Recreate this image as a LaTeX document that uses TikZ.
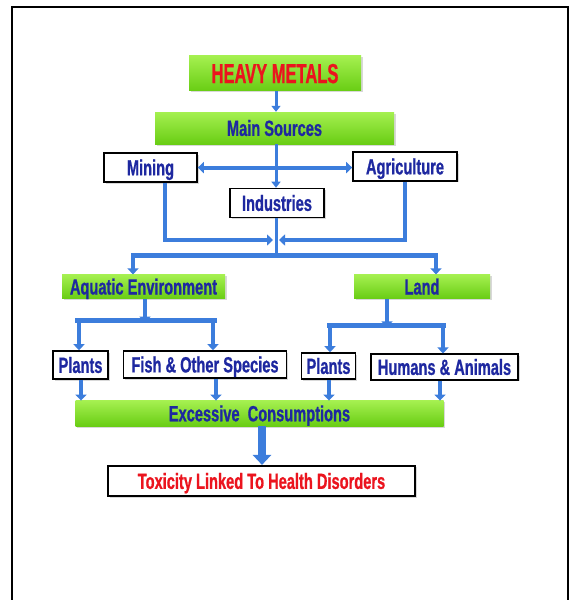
\documentclass[tikz,border=0pt]{standalone}
\usepackage{fontspec}
\setmainfont{Liberation Sans}[FakeStretch=0.665, BoldFeatures={FakeBold=0.8}]
\newfontfamily\hmfont{Liberation Sans}[FakeStretch=0.6, BoldFeatures={FakeBold=0.8}]
\usetikzlibrary{arrows.meta,shadows}
\definecolor{txtblue}{RGB}{30,40,160}
\definecolor{txtred}{RGB}{235,20,30}
\definecolor{arrblue}{RGB}{60,125,220}
\definecolor{gtop}{RGB}{165,240,80}
\definecolor{gbot}{RGB}{105,205,20}
\begin{document}
\begin{tikzpicture}[x=1pt,y=-1pt,
  lbl/.style={font=\bfseries\fontsize{22}{23}\selectfont, text=txtblue, inner sep=0pt,
     align=center, text height=15.8pt, text depth=0pt},
  gbox/.style={lbl, top color=gtop, bottom color=gbot, draw=none,
     drop shadow={opacity=0.3, shadow xshift=1.5pt, shadow yshift=-1.5pt}},
  wbox/.style={lbl, fill=white, draw=black, line width=1.6pt,
     drop shadow={opacity=0.3, shadow xshift=1.5pt, shadow yshift=-1.5pt}},
  flow/.style={draw=arrblue, line width=4pt, -{Triangle[length=6pt,width=11pt]}},
  thinflow/.style={draw=arrblue, line width=3pt, -{Triangle[length=6pt,width=9pt]}},
  bar/.style={draw=arrblue, line width=4.5pt},
  bigflow/.style={draw=arrblue, line width=8pt, -{Triangle[length=10pt,width=18pt]}}]
\useasboundingbox (0,0) rectangle (569,600);
\fill[white] (0,0) rectangle (569,600);
\draw[line width=1.8pt] (12,600) -- (12,7) -- (568,7) -- (568,600);

% nodes
\node[gbox, minimum width=172pt, minimum height=35pt, text=txtred, text height=19.7pt,
      font=\hmfont\bfseries\fontsize{27.5}{28}\selectfont] (hm) at (275,73.2) {HEAVY METALS};
\node[gbox, minimum width=239pt, minimum height=32pt] (ms) at (274.5,128) {Main Sources};
\node[wbox, minimum width=93pt, minimum height=29pt] (mining) at (150.5,167.5) {Mining};
\node[wbox, minimum width=104pt, minimum height=28.5pt] (agri) at (405,166.5) {Agriculture};
\node[wbox, minimum width=94pt, minimum height=29pt] (ind) at (277,203) {Industries};
\node[gbox, minimum width=163pt, minimum height=24pt] (aq) at (143.5,286.6) {Aquatic Environment};
\node[gbox, minimum width=136pt, minimum height=24pt] (land) at (422,286.6) {Land};
\node[wbox, minimum width=55pt, minimum height=28pt] (p1) at (80.5,365) {Plants};
\node[wbox, minimum width=163pt, minimum height=27pt] (fish) at (205,364.5) {Fish \& Other Species};
\node[wbox, minimum width=54pt, minimum height=26pt] (p2) at (328.5,366) {Plants};
\node[wbox, minimum width=147pt, minimum height=25.5pt] (ha) at (444.5,367) {Humans \& Animals};
\node[gbox, minimum width=368pt, minimum height=25.3pt] (ec) at (259.5,413.4) {Excessive\ \ Consumptions};
\node[wbox, minimum width=307pt, minimum height=30.5pt, text=txtred] (tox) at (261.5,481) {Toxicity Linked To Health Disorders};

% coordinates
\coordinate (mx) at (165,0);
\coordinate (axx) at (405,0);
\coordinate (dy) at (0,167.6);
\coordinate (j1) at (276,240);
\coordinate (j2) at (276,255.6);
\coordinate (bl) at (133,255.6);
\coordinate (br) at (436,255.6);
\coordinate (aqb) at (145,320.7);
\coordinate (aql) at (79,320.7);
\coordinate (aqr) at (213,320.7);
\coordinate (lb) at (387,325.3);
\coordinate (lbl) at (330,325.3);
\coordinate (lbr) at (443,325.3);

% connectors
\draw[thinflow] (hm.south -| 276,0) -- (ms.north -| 276,0);
\draw[flow, {Triangle[length=6pt,width=11pt]}-{Triangle[length=6pt,width=11pt]}] (mining.east |- dy) -- (agri.west |- dy);
\draw[thinflow] (ms.south -| 276,0) -- (ind.north -| 276,0);
\draw[flow] (mining.south -| mx) |- ([xshift=-3pt]j1);
\draw[flow] (agri.south -| axx) |- ([xshift=3pt]j1);
\draw[thinflow, -] (ind.south -| 276,0) -- (j2);
\draw[bar] ([xshift=-2pt]bl) -- ([xshift=2pt]br);
\draw[flow] (bl) -- (aq.north -| bl);
\draw[flow] (br) -- (land.north -| br);

\draw[flow] (aq.south -| aqb) -- ([yshift=-2pt]aqb);
\draw[bar] ([xshift=-4pt]aql) -- ([xshift=4pt]aqr);
\draw[flow] (aql) -- (p1.north -| aql);
\draw[flow] (aqr) -- (fish.north -| aqr);

\draw[flow] (land.south -| lb) -- ([yshift=-2pt]lb);
\draw[bar] ([xshift=-3pt]lbl) -- ([xshift=3pt]lbr);
\draw[flow] (lbl) -- (p2.north -| lbl);
\draw[flow] (lbr) -- (ha.north -| lbr);

\draw[flow] (p1.south -| 81,0) -- (ec.north -| 81,0);
\draw[flow] (fish.south -| 216,0) -- (ec.north -| 216,0);
\draw[flow] (p2.south -| 329,0) -- (ec.north -| 329,0);
\draw[flow] (ha.south -| 440,0) -- (ec.north -| 440,0);

\draw[bigflow] (ec.south -| 262,0) -- (tox.north -| 262,0);
\end{tikzpicture}
\end{document}
